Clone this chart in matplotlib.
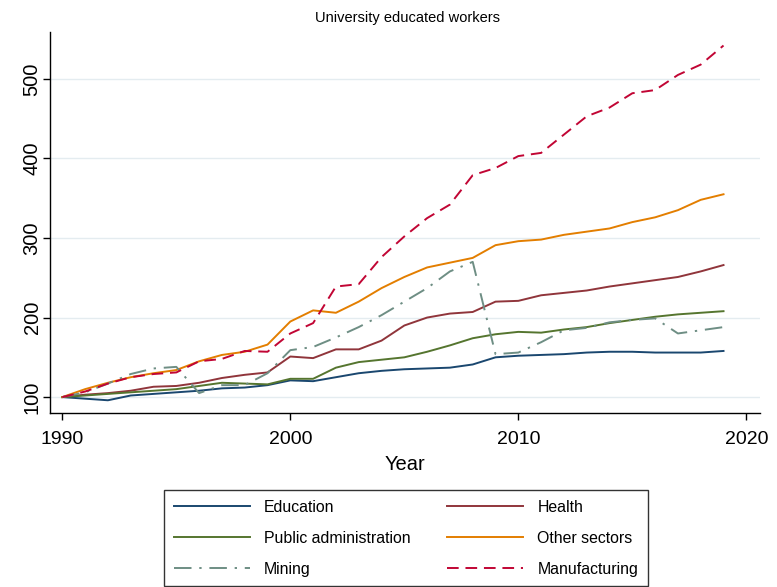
import matplotlib
matplotlib.use("Agg")
import matplotlib.pyplot as plt

plt.rcParams['font.family'] = ['Liberation Sans', 'DejaVu Sans']

years = list(range(1990, 2020))

education = [100, 98, 96, 102, 104, 106, 108, 111, 112, 115,
             121, 120, 125, 130, 133, 135, 136, 137, 141, 150,
             152, 153, 154, 156, 157, 157, 156, 156, 156, 158]
health = [100, 103, 105, 108, 113, 114, 118, 124, 128, 131,
          151, 149, 160, 160, 171, 190, 200, 205, 207, 220,
          221, 228, 231, 234, 239, 243, 247, 251, 258, 266]
public_admin = [100, 102, 104, 106, 108, 110, 114, 118, 117, 116,
                123, 123, 137, 144, 147, 150, 157, 165, 174, 179,
                182, 181, 185, 188, 193, 197, 201, 204, 206, 208]
other_sectors = [100, 110, 118, 125, 130, 134, 145, 153, 157, 166,
                 195, 209, 206, 220, 237, 251, 263, 269, 275, 291,
                 296, 298, 304, 308, 312, 320, 326, 335, 348, 355]
mining = [100, 106, 117, 129, 136, 138, 105, 115, 115, 130,
          159, 163, 175, 188, 203, 220, 237, 258, 270, 154,
          156, 169, 184, 187, 194, 197, 199, 180, 184, 188]
manufacturing = [100, 107, 117, 125, 129, 131, 145, 148, 158, 157,
                 180, 193, 239, 242, 276, 302, 325, 342, 379, 388,
                 403, 407, 430, 453, 464, 482, 486, 505, 518, 542]

series = [
    ("Education", education, "#1a476f", "-"),
    ("Health", health, "#90353b", "-"),
    ("Public administration", public_admin, "#55752f", "-"),
    ("Other sectors", other_sectors, "#e37e00", "-"),
    ("Mining", mining, "#6e8e84", (0, (9, 4, 1.2, 4))),
    ("Manufacturing", manufacturing, "#c10534", (0, (6, 3.5))),
]

fig = plt.figure(figsize=(7.77, 5.87), dpi=100)
ax = fig.add_axes([50/777, 1-413/587, (760-50)/777, (413-32)/587])

handles = {}
for name, vals, color, ls in series:
    h, = ax.plot(years, vals, color=color, linestyle=ls, linewidth=1.4, label=name)
    handles[name] = h

ax.set_xlim(1989.46, 2020.6)
ax.set_ylim(80, 559)
ax.set_xticks([1990, 2000, 2010, 2020])
ax.set_yticks([100, 200, 300, 400, 500])
ax.tick_params(axis='x', labelsize=14, length=5, width=1, color='black', pad=8)
ax.tick_params(axis='y', labelsize=14.5, length=5, width=1, color='black', pad=1)
for lab in ax.get_yticklabels():
    lab.set_rotation(90)
    lab.set_va('center')
ax.yaxis.grid(True, color='#e4ecf0', linewidth=1)
ax.set_axisbelow(True)
ax.spines['top'].set_visible(False)
ax.spines['right'].set_visible(False)
ax.spines['left'].set_linewidth(1)
ax.spines['bottom'].set_linewidth(1)
ax.set_xlabel("Year", fontsize=14.5, labelpad=5)
fig.text(408/777, 1-18/587, "University educated workers", ha='center', va='center', fontsize=10.5)

order = ["Education", "Public administration", "Mining",
         "Health", "Other sectors", "Manufacturing"]
leg = fig.legend([handles[n] for n in order], order, ncol=2,
                 loc='upper center', bbox_to_anchor=(406/777, 1-490/587),
                 borderaxespad=0,
                 fontsize=11.4, handlelength=4.8, handletextpad=0.9,
                 columnspacing=2.3, labelspacing=1.02, borderpad=0.6,
                 frameon=True, fancybox=False, edgecolor='black')
leg.get_frame().set_linewidth(1.0)

fig.savefig("out.png", dpi=100)
